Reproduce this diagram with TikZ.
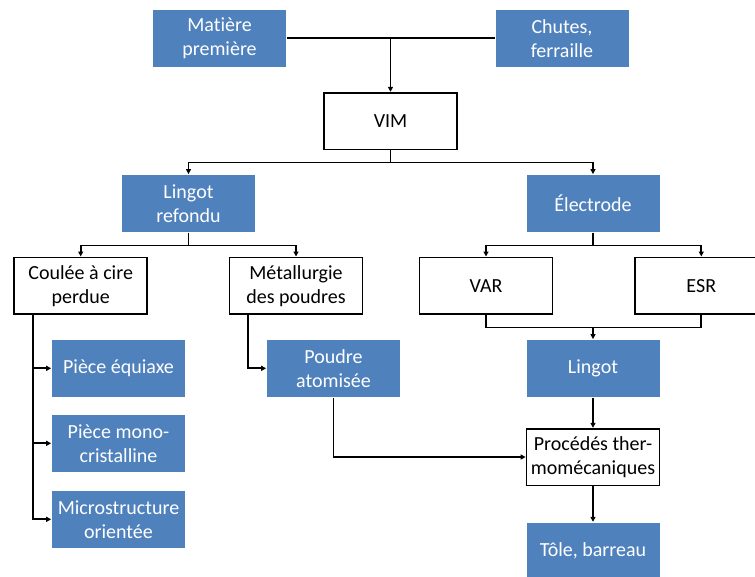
\documentclass[tikz,border=0pt]{standalone}
\usepackage{fontspec}
\setmainfont{Carlito}[Ligatures=NoCommon]
\usetikzlibrary{arrows.meta}
\definecolor{officeblue}{HTML}{4F81BD}
\begin{document}
\begin{tikzpicture}[x=1pt,y=-1pt,line width=1.7pt,
    box/.style={minimum width=133pt,minimum height=56.7pt,inner sep=0pt,align=center,
        font=\fontsize{20}{24}\selectfont},
    bluebox/.style={box,fill=officeblue,text=white},
    whitebox/.style={box,draw=black,fill=white},
    arr/.style={-{Triangle[length=5pt,width=5pt]}}]
    \useasboundingbox (0,0) rectangle (755,576);
    \clip (0,0) rectangle (755,576);
    % sources
    \node[bluebox] (mat) at (219.5,38.3) {Matière\\première};
    \node[bluebox] (chu) at (562,38.3) {Chutes,\\ferraille};
    \node[whitebox] (vim) at (390.5,121) {VIM};
    % first split
    \node[bluebox] (lref) at (188.5,203.3) {Lingot\\refondu};
    \node[bluebox] (elec) at (593,203.3) {Électrode};
    % processes
    \node[whitebox] (coul) at (80.7,285.7) {Coulée à cire\\perdue};
    \node[whitebox] (metal) at (296,285.7) {Métallurgie\\des poudres};
    \node[whitebox] (var) at (486,285.7) {VAR};
    \node[whitebox] (esr) at (701.3,285.7) {ESR};
    % products
    \node[bluebox] (equi) at (118.5,368.3) {Pièce équiaxe};
    \node[bluebox] (mono) at (118.5,443.3) {Pièce mono-\\cristalline};
    \node[bluebox] (micro) at (118.5,519.3) {Microstructure\\orientée};
    \node[bluebox] (poudre) at (333.5,368.3) {Poudre\\atomisée};
    \node[bluebox] (lingot) at (593,368.3) {Lingot};
    \node[whitebox] (proc) at (593,457) {Procédés ther-\\momécaniques};
    \node[bluebox] (tole) at (593,551) {Tôle, barreau};
    % junction points
    \coordinate (cl) at (33.3,314);
    \coordinate (ml) at (248.3,314);
    \coordinate (join) at (593,326.7);
    % connectors
    \draw (mat.east) -- (chu.west);
    \draw[arr] (vim.north |- mat.east) -- (vim.north);
    \draw[arr] (vim.south) -- ++(0,12.3) -| (lref.north);
    \draw[arr] (vim.south) -- ++(0,12.3) -| (elec.north);
    \draw[arr] (lref.south) -- ++(0,13) -| (coul.north);
    \draw[arr] (lref.south) -- ++(0,13) -| (metal.north);
    \draw[arr] (elec.south) -- ++(0,13) -| (var.north);
    \draw[arr] (elec.south) -- ++(0,13) -| (esr.north);
    \draw (var.south) -- ++(0,12.7) -| (esr.south);
    \draw[arr] (join) -- (lingot.north);
    \draw[arr] (cl) |- (equi.west);
    \draw[arr] (cl) |- (mono.west);
    \draw[arr] (cl) |- (micro.west);
    \draw[arr] (ml) |- (poudre.west);
    \draw[arr] (poudre.south) |- (proc.west);
    \draw[arr] (lingot.south) -- (proc.north);
    \draw[arr] (proc.south) -- (tole.north);
\end{tikzpicture}
\end{document}
